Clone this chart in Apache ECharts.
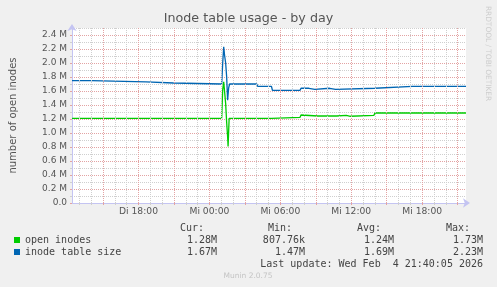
<!DOCTYPE html>
<html>
<head>
<meta charset="utf-8">
<script src="https://cdn.jsdelivr.net/npm/echarts@6/dist/echarts.min.js"></script>
<style>
html,body{margin:0;padding:0;background:#f0f0f0;}
#c{width:497px;height:287px;}
</style>
</head>
<body>
<div id="c"></div>
<script>
// ---- data (hours relative to Mi 00:00, values in millions) ----
const openInodes = [
  [-11.625, 1.210], [1.04, 1.210], [1.125, 1.62], [1.21, 1.73], [1.29, 1.58],
  [1.375, 1.42], [1.46, 1.15], [1.54, 0.95], [1.58, 0.808], [1.67, 1.210],
  [5.25, 1.210], [5.333, 1.224],
  [7.67, 1.224], [7.75, 1.257], [7.83, 1.243],
  [9.17, 1.243], [9.25, 1.252], [9.33, 1.243],
  [10.75, 1.243], [10.83, 1.253],
  [11.58, 1.253], [11.67, 1.239],
  [11.92, 1.239], [12.0, 1.253],
  [13.92, 1.253], [14.0, 1.286],
  [21.708, 1.286]
];
const tableSize = [
  [-11.625, 1.747], [-10.0, 1.747], [-9.92, 1.729],
  [-5.375, 1.729], [-5.29, 1.714],
  [-3.04, 1.714], [-2.96, 1.700],
  [1.04, 1.700], [1.125, 2.00], [1.21, 2.23], [1.29, 2.10], [1.375, 2.00],
  [1.46, 1.80], [1.54, 1.47], [1.625, 1.64], [1.71, 1.700],
  [4.0, 1.700], [4.083, 1.667],
  [5.25, 1.667], [5.333, 1.610],
  [7.67, 1.610], [7.75, 1.639],
  [8.42, 1.639], [8.5, 1.624],
  [8.92, 1.624], [9.0, 1.639],
  [10.17, 1.639], [10.25, 1.624],
  [10.67, 1.624], [10.75, 1.639],
  [14.0, 1.639], [14.083, 1.667],
  [17.17, 1.667], [17.25, 1.657], [17.33, 1.657], [17.42, 1.667],
  [18.25, 1.667], [18.33, 1.657], [18.5, 1.667], [18.58, 1.657], [18.75, 1.667],
  [21.708, 1.667]
];
const seriesNames = ['open inodes', 'inode table size'];
const seriesColors = ['#00cc00', '#0066b3'];
const labelHours = [-6, 0, 6, 12, 18];
const labelTexts = ['Di 18:00', 'Mi 00:00', 'Mi 06:00', 'Mi 12:00', 'Mi 18:00'];
const statHeaders = ['Cur:', 'Min:', 'Avg:', 'Max:'];
const statsOpen = ['1.28M', '807.76k', '1.24M', '1.73M'];
const statsSize = ['1.67M', '1.47M', '1.69M', '2.23M'];

// ---- layout ----
const X_MIN = -11.625, X_MAX = X_MIN + 400 / 12;
const minorX = [], majorX = [];
for (let h = Math.ceil(X_MIN); h <= X_MAX; h++) {
  if (((h % 3) + 3) % 3 === 0) majorX.push(h); else minorX.push(h);
}
const GRAY = '#cfcfcf', RED = '#e3a3a3', AXIS = '#c4c4f2';
const mono = "'DejaVu Sans Mono', monospace";
const sans = "'DejaVu Sans', sans-serif";

const chart = echarts.init(document.getElementById('c'), null, {renderer: 'canvas'});

const statCols = [217, 305, 394, 483];
const graphics = [];
statHeaders.forEach((t, i) => graphics.push({type: 'text', x: statCols[i] - 13, y: 228,
  style: {text: t, font: '10px ' + mono, fill: '#444', align: 'right', verticalAlign: 'middle'}}));
[statsOpen, statsSize].forEach((row, r) => row.forEach((t, i) => graphics.push({type: 'text',
  x: statCols[i], y: 240 + r * 12,
  style: {text: t, font: '10px ' + mono, fill: '#444', align: 'right', verticalAlign: 'middle'}})));
graphics.push({type: 'text', x: 483, y: 264,
  style: {text: 'Last update: Wed Feb  4 21:40:05 2026', font: '10px ' + mono, fill: '#444', align: 'right', verticalAlign: 'middle'}});
graphics.push({type: 'text', x: 248, y: 276.5,
  style: {text: 'Munin 2.0.75', font: '7.5px ' + sans, fill: '#c4c4c4', align: 'center', verticalAlign: 'middle'}});
graphics.push({type: 'text', x: 488, y: 53.5, rotation: -Math.PI / 2,
  style: {text: 'RRDTOOL / TOBI OETIKER', font: '7.4px ' + sans, fill: '#cdcdcd', align: 'center', verticalAlign: 'middle'}});

function vLines(values, color) {
  return {
    silent: true, symbol: ['none', 'none'], animation: false,
    label: {show: false},
    lineStyle: {color: color, type: [1, 1], width: 1},
    data: values.map(v => ({xAxis: v}))
  };
}

const option = {
  animation: false,
  backgroundColor: '#f0f0f0',
  title: {
    text: 'Inode table usage - by day', left: 'center', top: 11, padding: 0,
    textStyle: {fontFamily: sans, fontSize: 12.7, fontWeight: 'normal', color: '#555', lineHeight: 16}
  },
  legend: {
    orient: 'vertical', left: 14, top: 234, padding: 0, itemGap: 0,
    itemWidth: 6, itemHeight: 6, icon: 'rect', selectedMode: false,
    data: seriesNames,
    textStyle: {fontFamily: mono, fontSize: 10, color: '#444', lineHeight: 12, padding: [0, 0, 0, 0]}
  },
  grid: {left: 66, top: 28, width: 400, height: 175, show: true, backgroundColor: '#ffffff', borderWidth: 0},
  xAxis: [
    {
      type: 'value', min: X_MIN, max: X_MAX, position: 'bottom',
      axisLine: {show: false, onZero: false},
      axisTick: {show: true, length: 2, customValues: minorX, lineStyle: {color: GRAY}},
      axisLabel: {show: false},
      splitLine: {show: false}
    },
    {
      type: 'value', min: X_MIN, max: X_MAX, position: 'bottom',
      axisLine: {show: true, onZero: false, symbol: ['none', 'arrow'], symbolSize: [7, 7], symbolOffset: [0, 4], lineStyle: {color: AXIS}},
      axisTick: {show: true, length: 2, customValues: majorX, lineStyle: {color: RED}},
      axisLabel: {show: true, customValues: labelHours, margin: 4,
        fontFamily: sans, fontSize: 9.2, color: '#555',
        formatter: v => labelTexts[labelHours.indexOf(Math.round(v))] || ''},
      splitLine: {show: false}
    }
  ],
  yAxis: [
    {
      type: 'value', min: 0, max: 2.5, interval: 0.1,
      axisLine: {show: false, onZero: false},
      axisTick: {show: true, length: 2, lineStyle: {color: GRAY}},
      axisLabel: {show: false},
      splitLine: {show: true, lineStyle: {color: GRAY, type: [1, 1], width: 1}},
      name: 'number of open inodes', nameLocation: 'middle', nameGap: 54, nameRotate: 90,
      nameTextStyle: {fontFamily: sans, fontSize: 10, color: '#555'}
    },
    {
      type: 'value', min: 0, max: 2.5, interval: 0.2, position: 'left',
      axisLine: {show: true, onZero: false, symbol: ['none', 'arrow'], symbolSize: [7, 7], symbolOffset: [0, 4], lineStyle: {color: AXIS}},
      axisTick: {show: true, length: 2, lineStyle: {color: RED}},
      axisLabel: {show: true, margin: 5, fontFamily: sans, fontSize: 9, color: '#555',
        formatter: v => {
          const r = Math.round(v * 10);
          if (r % 2 !== 0) return '';
          return r === 0 ? '0.0' : (r / 10).toFixed(1) + ' M';
        }},
      splitLine: {show: true, showMaxLine: false, lineStyle: {color: RED, type: [1, 1], width: 1}}
    }
  ],
  series: [
    {name: 'grid-minor', type: 'line', xAxisIndex: 1, yAxisIndex: 1, data: [],
      markLine: vLines(minorX, GRAY), z: 1},
    {name: 'grid-major', type: 'line', xAxisIndex: 1, yAxisIndex: 1, data: [],
      markLine: vLines(majorX, RED), z: 1},
    {name: seriesNames[0], type: 'line', xAxisIndex: 1, yAxisIndex: 1, data: openInodes,
      showSymbol: false, symbol: 'none', color: seriesColors[0], lineStyle: {width: 1.3}, z: 3},
    {name: seriesNames[1], type: 'line', xAxisIndex: 1, yAxisIndex: 1, data: tableSize,
      showSymbol: false, symbol: 'none', color: seriesColors[1], lineStyle: {width: 1.3}, z: 4}
  ],
  graphic: graphics
};
chart.setOption(option);
</script>
</body>
</html>
